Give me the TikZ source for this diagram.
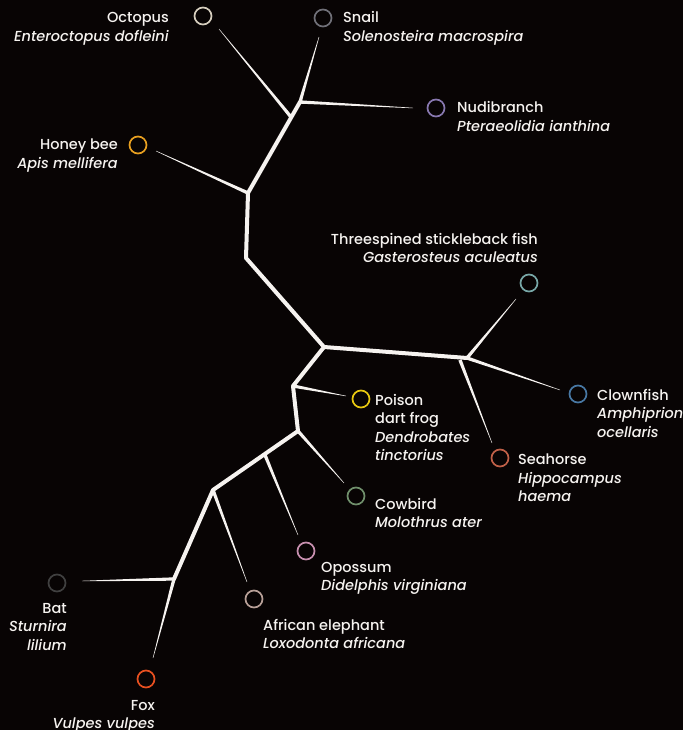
\documentclass[tikz,border=0pt]{standalone}
\usepackage{fontspec}
\setmainfont{Poppins}[UprightFont={* Medium},ItalicFont={* Medium Italic}]
\usetikzlibrary{calc}
\definecolor{bg}{RGB}{8,4,4}
\definecolor{ink}{RGB}{246,243,240}
\definecolor{cOct}{RGB}{214,206,190}
\definecolor{cSn}{RGB}{112,112,120}
\definecolor{cNu}{RGB}{136,120,176}
\definecolor{cHb}{RGB}{232,160,32}
\definecolor{cSt}{RGB}{120,168,168}
\definecolor{cCl}{RGB}{72,120,164}
\definecolor{cSe}{RGB}{192,96,72}
\definecolor{cPo}{RGB}{232,200,16}
\definecolor{cCo}{RGB}{112,144,108}
\definecolor{cOp}{RGB}{200,144,176}
\definecolor{cEl}{RGB}{184,160,152}
\definecolor{cBa}{RGB}{64,64,64}
\definecolor{cFo}{RGB}{232,80,32}
\newcommand\leaf[2]{\fill[ink] ($(#1)!1.7pt!90:(#2)$) -- ($(#2)!0.2pt!-90:(#1)$) -- ($(#2)!0.2pt!90:(#1)$) -- ($(#1)!1.7pt!-90:(#2)$) -- cycle;}
\newcommand\labtxt[3]{\begin{tabular}[t]{@{}#1@{}}#2\\\textit{#3}\end{tabular}}
\begin{document}
\begin{tikzpicture}[x=1pt,y=-1pt,
  trunk/.style={draw=ink,line width=4pt,line join=round,line cap=round},
  dot/.style={circle,draw=#1,line width=1.7pt,minimum size=17pt,inner sep=0pt},
  lbl/.style={text=ink,inner sep=0pt,font=\fontsize{14.5}{18.6}\selectfont}]
\fill[bg] (0,0) rectangle (683,730);
\useasboundingbox (0,0) rectangle (683,730);
% internal nodes
\coordinate (nS) at (300,102);
\coordinate (nO) at (291,117);
\coordinate (nH) at (248,193);
\coordinate (nK) at (246,258);
\coordinate (nR) at (324,347);
\coordinate (nF) at (467,358);
\coordinate (nSh) at (460,360);
\coordinate (nP) at (293,386);
\coordinate (nC) at (298,431);
\coordinate (nOp) at (265,455);
\coordinate (nE) at (213,490);
\coordinate (nB) at (174,579);
% leaf ends
\coordinate (eOct) at (219,29);
\coordinate (eSn) at (319,37);
\coordinate (eNu) at (413,108);
\coordinate (eHb) at (156,151);
\coordinate (eSt) at (516,299);
\coordinate (eCl) at (560,390);
\coordinate (eSe) at (492,443);
\coordinate (ePo) at (346,396);
\coordinate (eCo) at (344,483);
\coordinate (eOp) at (298,535);
\coordinate (eEl) at (247,582);
\coordinate (eBa) at (82,581);
\coordinate (eFo) at (153,658);
% trunk
\draw[trunk] (nS) -- (nH) -- (nK) -- (nR) -- (nP) -- (nC) -- (nE) -- (nB);
\draw[trunk] (nR) -- (nF);
% leaves
\leaf{nO}{eOct}
\leaf{nS}{eSn}
\leaf{nS}{eNu}
\leaf{nH}{eHb}
\leaf{nF}{eSt}
\leaf{nF}{eCl}
\leaf{nSh}{eSe}
\leaf{nP}{ePo}
\leaf{nC}{eCo}
\leaf{nOp}{eOp}
\leaf{nE}{eEl}
\leaf{nB}{eBa}
\leaf{nB}{eFo}
% circles
\node[dot=cOct] (oct) at (203,16) {};
\node[dot=cSn] (snail) at (323,18) {};
\node[dot=cNu] (nudi) at (436,108) {};
\node[dot=cHb] (bee) at (138,145) {};
\node[dot=cSt] (stick) at (529,283) {};
\node[dot=cCl] (clown) at (578,394) {};
\node[dot=cSe] (sea) at (500,458) {};
\node[dot=cPo] (frog) at (361,399) {};
\node[dot=cCo] (cow) at (356,496) {};
\node[dot=cOp] (opo) at (306,551) {};
\node[dot=cEl] (ele) at (254,599) {};
\node[dot=cBa] (bat) at (57,583) {};
\node[dot=cFo] (fox) at (146,679) {};
% labels
\node[lbl,anchor=base east] (tOct) at (169,22.5) {\labtxt{r}{Octopus}{Enteroctopus dofleini}};
\node[lbl,anchor=base west] (tSn) at (343,22.5) {\labtxt{l}{Snail}{Solenosteira macrospira}};
\node[lbl,anchor=base west] (tNu) at (457,113) {\labtxt{l}{Nudibranch}{Pteraeolidia ianthina}};
\node[lbl,anchor=base east] (tHb) at (118,150) {\labtxt{r}{Honey bee}{Apis mellifera}};
\node[lbl,anchor=base east] (tSt) at (538,244) {\labtxt{r}{Threespined stickleback fish}{Gasterosteus aculeatus}};
\node[lbl,anchor=base west] (tCl) at (597,400) {\begin{tabular}[t]{@{}l@{}}Clownfish\\\textit{Amphiprion}\\\textit{ocellaris}\end{tabular}};
\node[lbl,anchor=base west] (tSe) at (518,464.5) {\begin{tabular}[t]{@{}l@{}}Seahorse\\\textit{Hippocampus}\\\textit{haema}\end{tabular}};
\node[lbl,anchor=base west] (tPo) at (375,405) {\begin{tabular}[t]{@{}l@{}}Poison\\dart frog\\\textit{Dendrobates}\\\textit{tinctorius}\end{tabular}};
\node[lbl,anchor=base west] (tCo) at (375,509) {\labtxt{l}{Cowbird}{Molothrus ater}};
\node[lbl,anchor=base west] (tOp) at (321,572) {\labtxt{l}{Opossum}{Didelphis virginiana}};
\node[lbl,anchor=base west] (tEl) at (263,630) {\labtxt{l}{African elephant}{Loxodonta africana}};
\node[lbl,anchor=base east] (tBa) at (67,613) {\begin{tabular}[t]{@{}r@{}}Bat\\\textit{Sturnira}\\\textit{lilium}\end{tabular}};
\node[lbl,anchor=base east] (tFo) at (155,710) {\labtxt{r}{Fox}{Vulpes vulpes}};
\end{tikzpicture}
\end{document}
